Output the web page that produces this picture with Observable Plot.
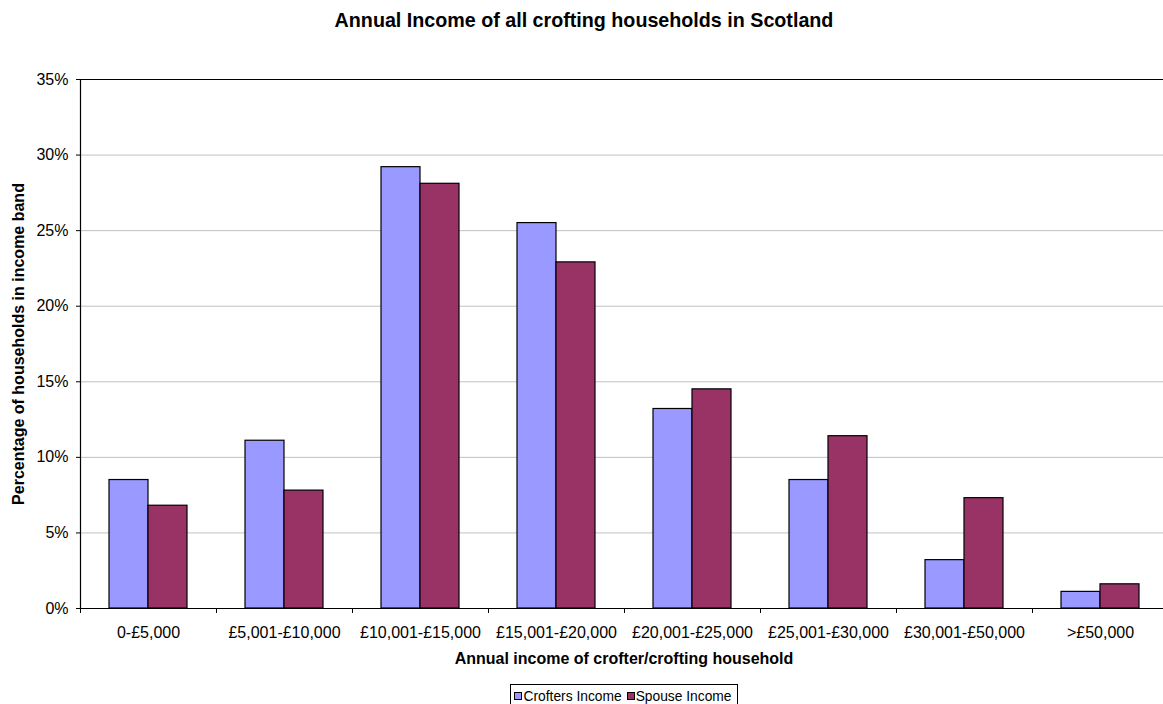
<!DOCTYPE html>
<html>
<head>
<meta charset="utf-8">
<script src="https://cdn.jsdelivr.net/npm/d3@7"></script>
<script src="https://cdn.jsdelivr.net/npm/@observablehq/plot@0.6"></script>
<style>
  html, body { margin: 0; padding: 0; background: white; overflow: hidden; }
  #wrap { width: 1168px; font-family: "Liberation Sans", Arial, sans-serif; color: black; }
  #title { height: 44px; line-height: 40px; text-align: center; font-weight: bold; font-size: 19.7px; }
  #xtitle { height: 30px; line-height: 30px; padding-left: 80px; text-align: center; font-weight: bold; font-size: 16px; }
  #legendRow { padding-left: 80px; text-align: center; margin-top: 10px; }
  #legend { display: inline-flex; align-items: center; border: 1px solid black; padding: 0 5px 0 3px; height: 22px; font-size: 13.8px; }
  .sw { display: inline-block; width: 6px; height: 6px; border: 1px solid black; margin-right: 1px; }
  .item { display: inline-flex; align-items: center; margin-right: 5px; }
  .item:last-child { margin-right: 0; }
</style>
</head>
<body>
<div id="wrap">
  <div id="title"></div>
  <div id="chart"></div>
  <div id="xtitle"></div>
  <div id="legendRow"><div id="legend"></div></div>
</div>
<script>
const titleText = "Annual Income of all crofting households in Scotland";
const yTitle = "Percentage of households in income band";
const xTitle = "Annual income of crofter/crofting household";
const categories = ["0-£5,000", "£5,001-£10,000", "£10,001-£15,000", "£15,001-£20,000", "£20,001-£25,000", "£25,001-£30,000", "£30,001-£50,000", ">£50,000"];
const seriesNames = ["Crofters Income", "Spouse Income"];
const seriesColors = ["#9999FF", "#993366"];
const croftersIncome = [8.5, 11.1, 29.2, 25.5, 13.2, 8.5, 3.2, 1.1];
const spouseIncome = [6.8, 7.8, 28.1, 22.9, 14.5, 11.4, 7.3, 1.6];
const yTicks = [0, 5, 10, 15, 20, 25, 30, 35];
const gridTicks = [5, 10, 15, 20, 25, 30];

const rows = [];
categories.forEach((c, i) => {
  rows.push({category: c, series: seriesNames[0], value: croftersIncome[i]});
  rows.push({category: c, series: seriesNames[1], value: spouseIncome[i]});
});

const W = 1168, ML = 80, MR = 0;
const band = (W - ML - MR) / categories.length;

document.getElementById("title").textContent = titleText;
document.getElementById("xtitle").textContent = xTitle;

const chart = Plot.plot({
  width: W,
  height: 600,
  marginTop: 35,
  marginBottom: 36,
  marginLeft: ML,
  marginRight: MR,
  style: {fontFamily: "'Liberation Sans', Arial, sans-serif", fontSize: "16px", background: "white", color: "black", overflow: "visible"},
  fx: {domain: categories, padding: 0, label: null},
  x: {domain: seriesNames, paddingInner: 0, paddingOuter: 0.72, axis: null},
  y: {domain: [0, 35], label: null},
  color: {domain: seriesNames, range: seriesColors},
  marks: [
    Plot.gridY(gridTicks, {stroke: "#c0c0c0", strokeOpacity: 1}),
    Plot.barY(rows, {fx: "category", x: "series", y: "value", fill: "series", stroke: "black", strokeWidth: 1.2, inset: 0}),
    Plot.ruleY([0, 35], {stroke: "black", strokeWidth: 1.2}),
    Plot.frame({anchor: "left", facetAnchor: "left", stroke: "black", strokeWidth: 1.2}),
    Plot.axisY({ticks: yTicks, tickFormat: d => d + "%", tickSize: 4, tickPadding: 8, label: null, facetAnchor: "left"}),
    Plot.axisFx({anchor: "bottom", tickSize: 0, tickPadding: 18, label: null}),
    Plot.axisFx({anchor: "bottom", tickSize: 5, tickFormat: () => "", dx: -band / 2, label: null}),
    Plot.text([yTitle], {text: d => d, frameAnchor: "left", facetAnchor: "left", textAnchor: "middle", rotate: -90, dx: -62, fontWeight: "bold", fontSize: 16})
  ]
});
document.getElementById("chart").appendChild(chart);

const legend = document.getElementById("legend");
seriesNames.forEach((s, i) => {
  const item = document.createElement("span");
  item.className = "item";
  const sw = document.createElement("span");
  sw.className = "sw";
  sw.style.background = seriesColors[i];
  item.appendChild(sw);
  item.appendChild(document.createTextNode(s));
  legend.appendChild(item);
});
</script>
</body>
</html>
